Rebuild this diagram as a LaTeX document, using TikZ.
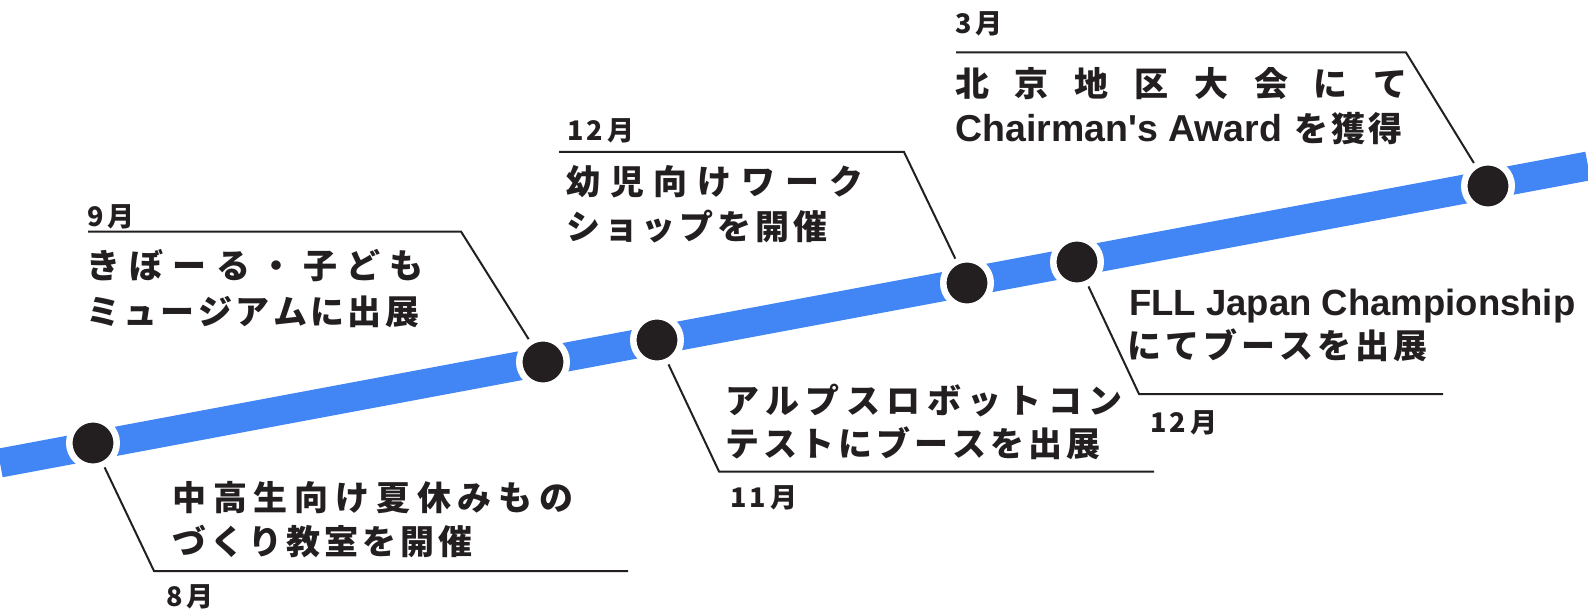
\documentclass[tikz,border=0pt]{standalone}
\usepackage{fontspec}
\newfontfamily\jpfont{Noto Sans CJK JP}
\newfontfamily\latfont[Ligatures=TeXOff]{Liberation Sans}
\definecolor{tlblue}{HTML}{4285F4}
\definecolor{dark}{HTML}{231F20}
\makeatletter
\def\jsp@end{}
\newcommand\jsp[2]{\def\jsp@w{#1}\jsp@loop#2\jsp@end}
\def\jsp@loop#1{\ifx#1\jsp@end\else\makebox[\jsp@w][l]{#1}\expandafter\jsp@loop\fi}
\makeatother
\newcommand\mon[1]{{\addfontfeatures{LetterSpace=12}#1}\hspace{4pt}月}
\tikzset{
  blueline/.style={draw=tlblue, line width=29pt},
  dotnode/.style={circle, fill=dark, draw=white, line width=6.5pt, minimum size=47.5pt, inner sep=0pt},
  leader/.style={draw=dark, line width=2pt},
  jtxt/.style={anchor=base west, inner sep=0pt, text=dark, font=\jpfont\bfseries\fontsize{34}{40}\selectfont},
  ltxt/.style={anchor=base west, inner sep=0pt, text=dark, font=\latfont\bfseries\fontsize{36.5}{42}\selectfont},
  mtxt/.style={anchor=base west, inner sep=0pt, text=dark, font=\jpfont\bfseries\fontsize{27}{32}\selectfont},
}
\begin{document}
\begin{tikzpicture}[x=1pt,y=-1pt]
\useasboundingbox (0,0) rectangle (1588,615);
% timeline
\coordinate (lineL) at (0,463);
\coordinate (lineR) at (1588,166);
\draw[blueline] (lineL) -- (lineR);
% dots
\node[dotnode] (d1) at (93,443) {};
\node[dotnode] (d2) at (543,362) {};
\node[dotnode] (d3) at (657,340) {};
\node[dotnode] (d4) at (967,283) {};
\node[dotnode] (d5) at (1077,262) {};
\node[dotnode] (d6) at (1488,186) {};
% bends and ends
\coordinate (b1) at (154,571);   \coordinate (e1) at (628,571);
\coordinate (b2) at (461,231.5); \coordinate (e2) at (88,231.5);
\coordinate (b3) at (719,471.5); \coordinate (e3) at (1154,471.5);
\coordinate (b4) at (904,152);   \coordinate (e4) at (559,152);
\coordinate (b5) at (1139,394);  \coordinate (e5) at (1443,394);
\coordinate (b6) at (1406,52.5); \coordinate (e6) at (956,52.5);
\draw[leader] (d1) -- (b1) -- (e1);
\draw[leader] (d2) -- (b2) -- (e2);
\draw[leader] (d3) -- (b3) -- (e3);
\draw[leader] (d4) -- (b4) -- (e4);
\draw[leader] (d5) -- (b5) -- (e5);
\draw[leader] (d6) -- (b6) -- (e6);
% texts: August
\node[jtxt] (t1a) at (172,510.5) {\jsp{40.8pt}{中高生向け夏休みもの}};
\node[jtxt] (t1b) at (172,554) {\jsp{38pt}{づくり教室を開催}};
\node[mtxt] (m1) at (166,606) {\mon{8}};
% September
\node[mtxt] (m2) at (87,226) {\mon{9}};
\node[jtxt] (t2a) at (86,278) {\jsp{43.4pt}{きぼーる・子ども}};
\node[jtxt] (t2b) at (86,324) {\jsp{37.4pt}{ミュージアムに出展}};
% November
\node[jtxt] (t3a) at (725,413.5) {\jsp{40.4pt}{アルプスロボットコン}};
\node[jtxt] (t3b) at (725,456) {\jsp{37.9pt}{テストにブースを出展}};
\node[mtxt] (m3) at (730,507) {\mon{11}};
% December (top)
\node[mtxt] (m4) at (567,141) {\mon{12}};
\node[jtxt] (t4a) at (566,194) {\jsp{43.9pt}{幼児向けワーク}};
\node[jtxt] (t4b) at (566,239) {\jsp{37.9pt}{ショップを開催}};
% December (bottom)
\node[ltxt] (t5a) at (1129,315) {FLL Japan Championship};
\node[jtxt] (t5b) at (1127,358) {\jsp{38pt}{にてブースを出展}};
\node[mtxt] (m5) at (1150,432) {\mon{12}};
% March
\node[mtxt] (m6) at (955,34) {\mon{3}};
\node[jtxt] (t6a) at (955,97) {\jsp{59.8pt}{北京地区大会にて}};
\node[jtxt] (t6b) at (955,142) {\makebox[339pt][l]{\latfont\fontsize{37.5}{42}\selectfont Chairman's Award}\jsp{37.2pt}{を獲得}};
\end{tikzpicture}
\end{document}
